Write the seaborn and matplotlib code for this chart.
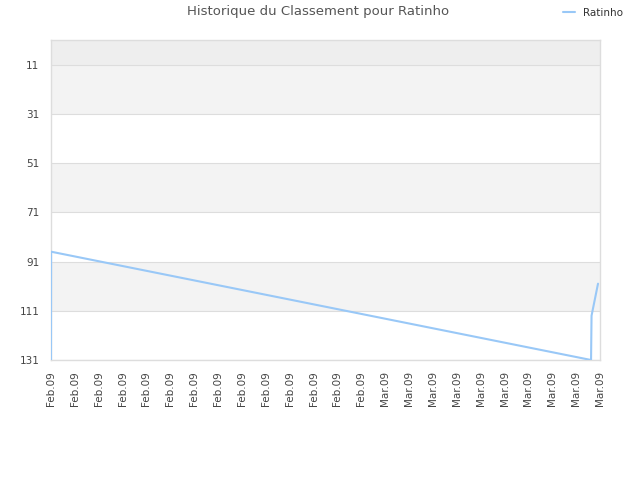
import matplotlib
matplotlib.use("Agg")
import matplotlib.pyplot as plt
import seaborn as sns
import pandas as pd
from matplotlib.lines import Line2D

# Data
player = "Ratinho"
dates = ["2009-02-01 00:00", "2009-02-01 00:10", "2009-03-18 06:00",
         "2009-03-18 07:00", "2009-03-18 20:00"]
ranks = [131, 87, 131, 113, 100]
y_ticks = [11, 31, 51, 71, 91, 111, 131]

df = pd.DataFrame({"date": pd.to_datetime(dates), "rank": ranks, "player": player})

sns.set_style("white")
plt.rcParams["font.family"] = ["DejaVu Sans"]

fig = plt.figure(figsize=(6.4, 4.8), dpi=100)
ax = fig.add_axes([51/640, 1-360/480, 549/640, 320/480])

# bands
ax.axhspan(1, 11, color="#eeeeee", zorder=0, lw=0)
for lo, hi in [(11, 31), (51, 71), (91, 111)]:
    ax.axhspan(lo, hi, color="#f3f3f3", zorder=0, lw=0)
for t in y_ticks:
    ax.axhline(t, color="#dddddd", lw=0.8, zorder=1)

line_color = "#99c8f7"
sns.lineplot(data=df, x="date", y="rank", hue="player", palette=[line_color],
             lw=1.5, ax=ax, legend=False, sort=False, estimator=None, zorder=3)

ax.set_ylim(131, 1)
ax.set_yticks(y_ticks)
ax.set_xlim(pd.Timestamp("2009-02-01"), pd.Timestamp("2009-03-19"))
ticks = pd.date_range("2009-02-01", "2009-03-19", freq="2D")
ax.set_xticks(ticks)
ax.set_xticklabels([d.strftime("%b.%y") for d in ticks], rotation=90)
ax.tick_params(axis="both", labelsize=7.5, colors="#444444", length=0)
ax.tick_params(axis="y", pad=8.5)
ax.tick_params(axis="x", pad=8)
ax.set_xlabel("")
ax.set_ylabel("")
for s in ax.spines.values():
    s.set_color("#dddddd")
    s.set_linewidth(1)

fig.text(318/640, 1-12/480, "Historique du Classement pour Ratinho", fontsize=9.5,
         color="#555555", ha="center", va="center")

h = Line2D([], [], color=line_color, lw=1.5)
fig.legend([h], [player], loc="center left", bbox_to_anchor=(563/640, 1-13/480),
           frameon=False, fontsize=7.5, handlelength=1.15, handletextpad=0.75,
           borderpad=0, borderaxespad=0, labelcolor="#333333")

fig.savefig("out.png", dpi=100)
